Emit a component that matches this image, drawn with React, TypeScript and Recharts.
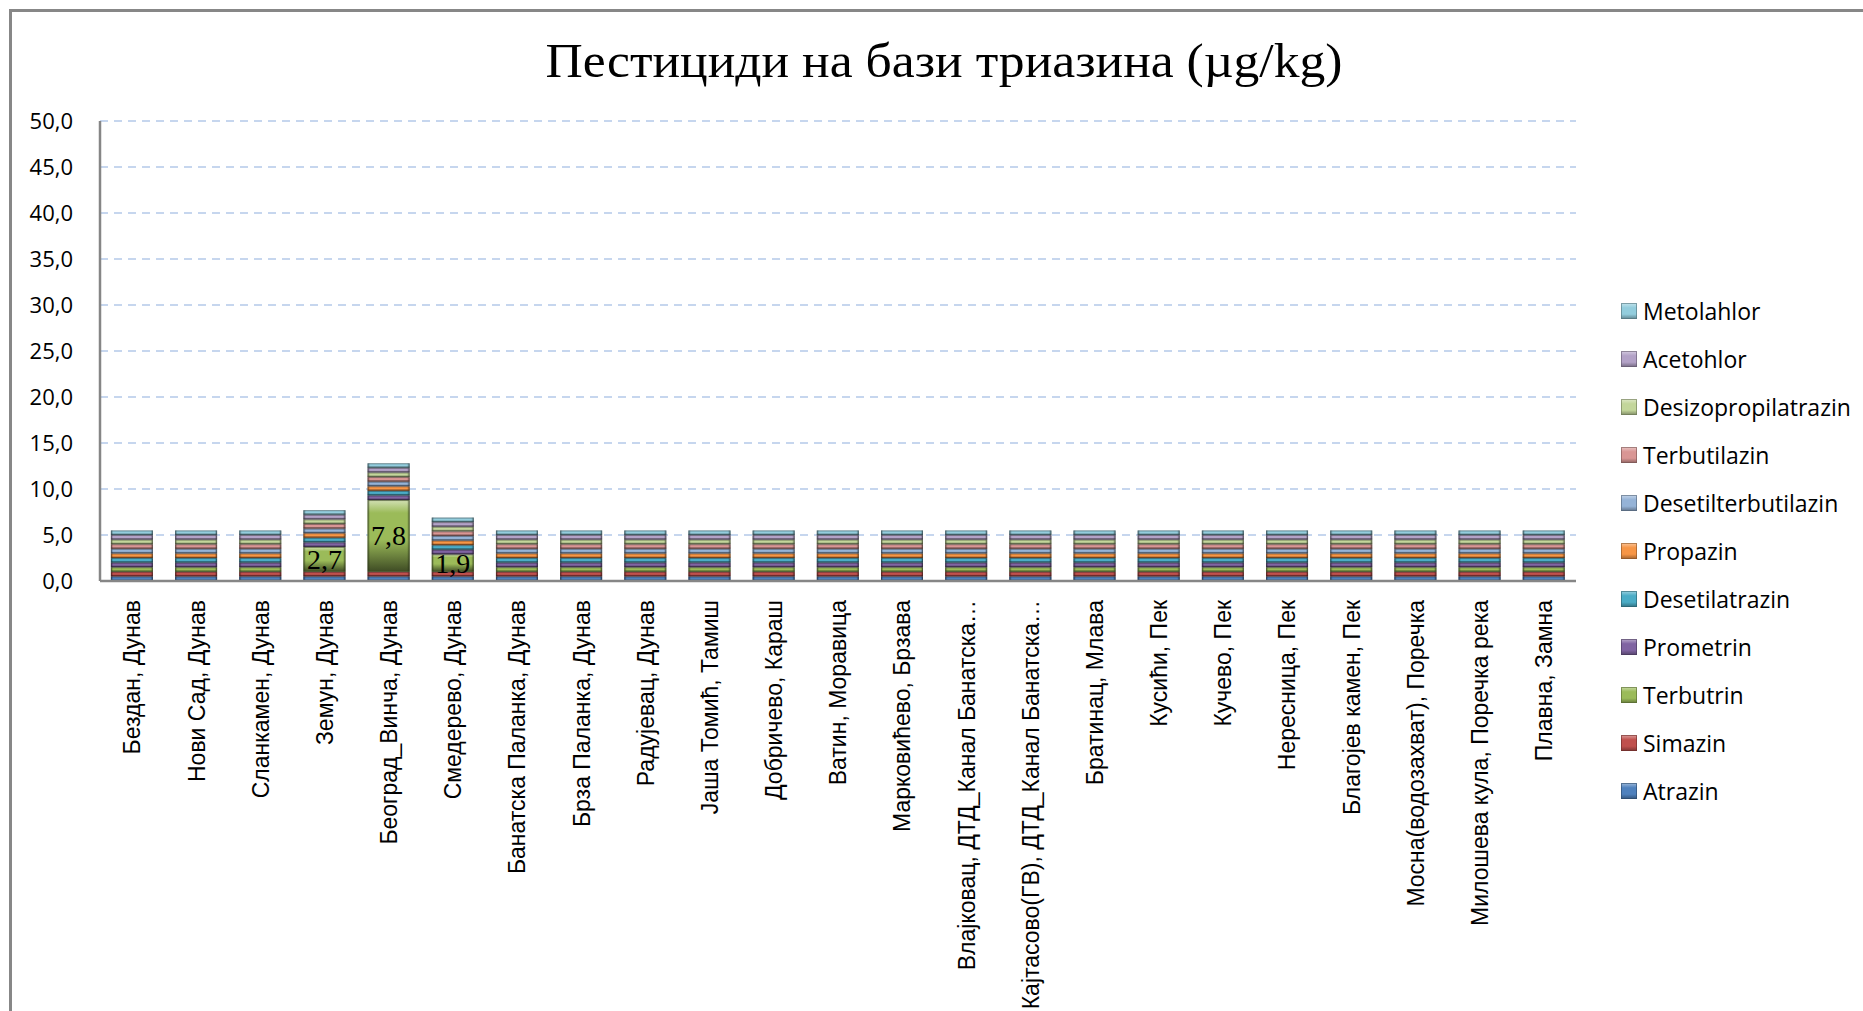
import React from 'react';
import { BarChart, Bar, XAxis, YAxis, CartesianGrid, Legend, LabelList } from 'recharts';

const categories = [
  'Бездан, Дунав',
  'Нови Сад, Дунав',
  'Сланкамен, Дунав',
  'Земун, Дунав',
  'Београд_Винча, Дунав',
  'Смедерево, Дунав',
  'Банатска Паланка, Дунав',
  'Брза Паланка, Дунав',
  'Радујевац, Дунав',
  'Јаша Томић, Тамиш',
  'Добричево, Караш',
  'Ватин, Моравица',
  'Марковићево, Брзава',
  'Влајковац, ДТД_Канал Банатска…',
  'Кајтасово(ГВ), ДТД_Канал Банатска…',
  'Братинац, Млава',
  'Кусићи, Пек',
  'Кучево, Пек',
  'Нересница, Пек',
  'Благојев камен, Пек',
  'Мосна(водозахват), Поречка',
  'Милошева кула, Поречка река',
  'Плавна, Замна',
];

// stack order, bottom to top
const seriesNames = [
  'Atrazin',
  'Simazin',
  'Terbutrin',
  'Prometrin',
  'Desetilatrazin',
  'Propazin',
  'Desetilterbutilazin',
  'Terbutilazin',
  'Desizopropilatrazin',
  'Acetohlor',
  'Metolahlor',
];

const seriesColors = [
  '#4F81BD',
  '#C0504D',
  '#9BBB59',
  '#8064A2',
  '#4BACC6',
  '#F79646',
  '#95B3D7',
  '#D99694',
  '#C3D69B',
  '#B3A2C7',
  '#93CDDD',
];

const atrazin = [0.5, 0.5, 0.5, 0.5, 0.5, 0.5, 0.5, 0.5, 0.5, 0.5, 0.5, 0.5, 0.5, 0.5, 0.5, 0.5, 0.5, 0.5, 0.5, 0.5, 0.5, 0.5, 0.5];
const simazin = [0.5, 0.5, 0.5, 0.5, 0.5, 0.5, 0.5, 0.5, 0.5, 0.5, 0.5, 0.5, 0.5, 0.5, 0.5, 0.5, 0.5, 0.5, 0.5, 0.5, 0.5, 0.5, 0.5];
const terbutrin = [0.5, 0.5, 0.5, 2.7, 7.8, 1.9, 0.5, 0.5, 0.5, 0.5, 0.5, 0.5, 0.5, 0.5, 0.5, 0.5, 0.5, 0.5, 0.5, 0.5, 0.5, 0.5, 0.5];
const prometrin = [0.5, 0.5, 0.5, 0.5, 0.5, 0.5, 0.5, 0.5, 0.5, 0.5, 0.5, 0.5, 0.5, 0.5, 0.5, 0.5, 0.5, 0.5, 0.5, 0.5, 0.5, 0.5, 0.5];
const desetilatrazin = [0.5, 0.5, 0.5, 0.5, 0.5, 0.5, 0.5, 0.5, 0.5, 0.5, 0.5, 0.5, 0.5, 0.5, 0.5, 0.5, 0.5, 0.5, 0.5, 0.5, 0.5, 0.5, 0.5];
const propazin = [0.5, 0.5, 0.5, 0.5, 0.5, 0.5, 0.5, 0.5, 0.5, 0.5, 0.5, 0.5, 0.5, 0.5, 0.5, 0.5, 0.5, 0.5, 0.5, 0.5, 0.5, 0.5, 0.5];
const desetilterbutilazin = [0.5, 0.5, 0.5, 0.5, 0.5, 0.5, 0.5, 0.5, 0.5, 0.5, 0.5, 0.5, 0.5, 0.5, 0.5, 0.5, 0.5, 0.5, 0.5, 0.5, 0.5, 0.5, 0.5];
const terbutilazin = [0.5, 0.5, 0.5, 0.5, 0.5, 0.5, 0.5, 0.5, 0.5, 0.5, 0.5, 0.5, 0.5, 0.5, 0.5, 0.5, 0.5, 0.5, 0.5, 0.5, 0.5, 0.5, 0.5];
const desizopropilatrazin = [0.5, 0.5, 0.5, 0.5, 0.5, 0.5, 0.5, 0.5, 0.5, 0.5, 0.5, 0.5, 0.5, 0.5, 0.5, 0.5, 0.5, 0.5, 0.5, 0.5, 0.5, 0.5, 0.5];
const acetohlor = [0.5, 0.5, 0.5, 0.5, 0.5, 0.5, 0.5, 0.5, 0.5, 0.5, 0.5, 0.5, 0.5, 0.5, 0.5, 0.5, 0.5, 0.5, 0.5, 0.5, 0.5, 0.5, 0.5];
const metolahlor = [0.5, 0.5, 0.5, 0.5, 0.5, 0.5, 0.5, 0.5, 0.5, 0.5, 0.5, 0.5, 0.5, 0.5, 0.5, 0.5, 0.5, 0.5, 0.5, 0.5, 0.5, 0.5, 0.5];

const seriesValues = [
  atrazin,
  simazin,
  terbutrin,
  prometrin,
  desetilatrazin,
  propazin,
  desetilterbutilazin,
  terbutilazin,
  desizopropilatrazin,
  acetohlor,
  metolahlor,
];

const yTicks = [0, 5, 10, 15, 20, 25, 30, 35, 40, 45, 50];

const data = categories.map((name, i) => {
  const row: Record<string, string | number> = { name };
  seriesNames.forEach((s, k) => {
    row[s] = seriesValues[k][i];
  });
  return row;
});

const mix = (hex: string, target: number, amt: number) => {
  const n = parseInt(hex.slice(1), 16);
  const ch = [(n >> 16) & 255, (n >> 8) & 255, n & 255].map((c) => Math.round(c + (target - c) * amt));
  return `rgb(${ch[0]},${ch[1]},${ch[2]})`;
};

const fmt = (v: number) => v.toFixed(1).replace('.', ',');

const BevelBar = (props: any) => {
  const { x, y, width, height, sIdx } = props;
  if (!height || height <= 0) return null;
  return (
    <g>
      <rect x={x} y={y} width={width} height={height} fill={`url(#bev${sIdx})`} />
      <rect x={x} y={y} width={width} height={height} fill="url(#bevSide)" />
      <rect
        x={x + 0.5}
        y={y + 0.5}
        width={Math.max(width - 1, 0)}
        height={Math.max(height - 1, 0)}
        fill="none"
        stroke={mix(seriesColors[sIdx], 0, 0.6)}
        strokeOpacity={0.6}
        strokeWidth={1}
      />
    </g>
  );
};

const XTick = (props: any) => {
  const { x, y, payload } = props;
  return (
    <g transform={`translate(${x},${y})`}>
      <text
        transform="rotate(-90)"
        x={0}
        y={0}
        dy="0.36em"
        textAnchor="end"
        fontFamily="'Liberation Sans', Arial, sans-serif"
        fontSize={23}
        fill="#000"
      >
        {payload.value}
      </text>
    </g>
  );
};

const renderTerbutrinLabel = (props: any) => {
  const { x, y, width, height, value } = props;
  if (!(value > 0.5)) return null;
  return (
    <text
      x={x + width / 2}
      y={y + height / 2}
      textAnchor="middle"
      dominantBaseline="central"
      fontFamily="'Liberation Serif', 'Times New Roman', serif"
      fontSize={28}
      fill="#000"
    >
      {fmt(value)}
    </text>
  );
};

const LegendBox = () => (
  <div style={{ fontFamily: "'Open Sans', sans-serif", fontSize: 23, color: '#000' }}>
    {seriesNames
      .map((name, k) => ({ name, k }))
      .reverse()
      .map(({ name, k }) => (
        <div key={name} style={{ display: 'flex', alignItems: 'center', height: 48 }}>
          <svg width={16} height={16} style={{ marginRight: 6, flex: 'none' }}>
            <defs>
              <linearGradient id={`bevL${k}`} x1="0" y1="0" x2="0" y2="1">
                <stop offset="0" stopColor={mix(seriesColors[k], 255, 0.45)} />
                <stop offset="0.3" stopColor={seriesColors[k]} />
                <stop offset="0.7" stopColor={seriesColors[k]} />
                <stop offset="1" stopColor={mix(seriesColors[k], 0, 0.35)} />
              </linearGradient>
            </defs>
            <rect x={0} y={0} width={16} height={16} fill={`url(#bevL${k})`} />
            <rect x={0.5} y={0.5} width={15} height={15} fill="none" stroke={mix(seriesColors[k], 0, 0.45)} strokeOpacity={0.6} />
          </svg>
          <span style={{ lineHeight: 1 }}>{name}</span>
        </div>
      ))}
  </div>
);

const App: React.FC = () => {
  return (
    <div style={{ position: 'absolute', left: 0, top: 0, width: 1863, height: 1011, background: '#fff', overflow: 'hidden' }}>
      <div
        style={{
          position: 'absolute',
          left: 9,
          top: 9,
          right: 0,
          bottom: 0,
          borderLeft: '3px solid #878787',
          borderTop: '3px solid #878787',
        }}
      />
      <div style={{ position: 'absolute', left: 0, top: 0 }}>
        <BarChart
          width={1863}
          height={1011}
          data={data}
          margin={{ top: 121, right: 47, bottom: 10, left: 10 }}
          barCategoryGap="17%"
        >
          <defs>
            {seriesColors.map((c, k) => (
              <linearGradient key={k} id={`bev${k}`} x1="0" y1="0" x2="0" y2="1">
                <stop offset="0" stopColor={mix(c, 255, 0.55)} />
                <stop offset="0.18" stopColor={c} />
                <stop offset="0.55" stopColor={c} />
                <stop offset="1" stopColor={mix(c, 0, 0.6)} />
              </linearGradient>
            ))}
            <linearGradient id="bevSide" x1="0" y1="0" x2="1" y2="0">
              <stop offset="0" stopColor="#000" stopOpacity={0.4} />
              <stop offset="0.06" stopColor="#000" stopOpacity={0} />
              <stop offset="0.94" stopColor="#000" stopOpacity={0} />
              <stop offset="1" stopColor="#000" stopOpacity={0.4} />
            </linearGradient>
          </defs>
          <text
            x={944}
            y={77}
            textAnchor="middle"
            fontFamily="'Liberation Serif', 'Times New Roman', serif"
            fontSize={48}
            textLength={797}
            lengthAdjust="spacingAndGlyphs"
            fill="#000"
          >
            Пестициди на бази триазина (µg/kg)
          </text>
          <CartesianGrid vertical={false} stroke="#C6D6EE" strokeWidth={2} strokeDasharray="8 6" />
          <XAxis
            dataKey="name"
            interval={0}
            height={420}
            tickSize={0}
            tickMargin={19}
            tickLine={false}
            axisLine={{ stroke: '#868686', strokeWidth: 2.5 }}
            tick={<XTick />}
          />
          <YAxis
            domain={[0, 50]}
            ticks={yTicks}
            interval={0}
            width={90}
            tickSize={0}
            tickMargin={27}
            tickLine={false}
            tickFormatter={fmt}
            axisLine={{ stroke: '#868686', strokeWidth: 2.5 }}
            tick={{ fontFamily: "'Open Sans', sans-serif", fontSize: 22, fill: '#000' }}
          />
          <Legend
            layout="vertical"
            align="right"
            verticalAlign="top"
            content={<LegendBox />}
            wrapperStyle={{ left: 1621, top: 287, width: 240, right: 'auto' }}
          />
          {seriesNames.map((s, k) => (
            <Bar
              key={s}
              dataKey={s}
              stackId="a"
              fill={seriesColors[k]}
              isAnimationActive={false}
              shape={(p: any) => <BevelBar {...p} sIdx={k} />}
            >
              {s === 'Terbutrin' && <LabelList dataKey={s} content={renderTerbutrinLabel} />}
            </Bar>
          ))}
        </BarChart>
      </div>
    </div>
  );
};

export default App;
